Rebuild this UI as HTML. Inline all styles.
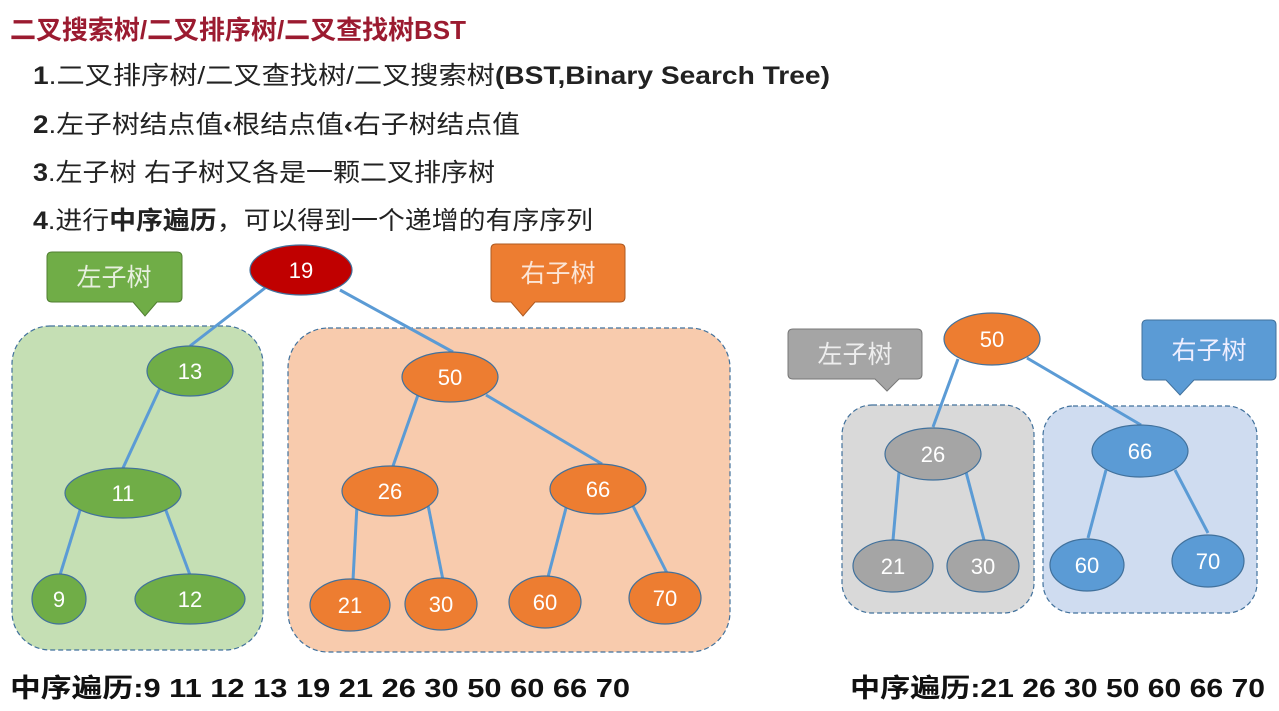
<!DOCTYPE html>
<html><head><meta charset="utf-8"><style>
html,body{margin:0;padding:0;background:#fff;width:1279px;height:711px;overflow:hidden}
svg{display:block}
text{font-family:"Liberation Sans","Noto Sans CJK SC",sans-serif}
</style></head><body>
<svg width="1279" height="711" viewBox="0 0 1279 711" xmlns="http://www.w3.org/2000/svg">
<text x="10" y="39" font-size="26" font-weight="bold" fill="#9b1b30" textLength="456" lengthAdjust="spacingAndGlyphs">二叉搜索树/二叉排序树/二叉查找树BST</text>
<g font-size="25" fill="#222">
<text x="33" y="84" textLength="797" lengthAdjust="spacingAndGlyphs"><tspan font-weight="bold">1</tspan>.二叉排序树/二叉查找树/二叉搜索树<tspan font-weight="bold">(BST,Binary Search Tree)</tspan></text>
<text x="33" y="133" textLength="487" lengthAdjust="spacingAndGlyphs"><tspan font-weight="bold">2</tspan>.左子树结点值<tspan font-weight="bold">‹</tspan>根结点值<tspan font-weight="bold">‹</tspan>右子树结点值</text>
<text x="33" y="181" textLength="462" lengthAdjust="spacingAndGlyphs"><tspan font-weight="bold">3</tspan>.左子树 右子树又各是一颗二叉排序树</text>
<text x="33" y="229" textLength="560" lengthAdjust="spacingAndGlyphs"><tspan font-weight="bold">4</tspan>.进行<tspan font-weight="bold">中序遍历</tspan>，可以得到一个递增的有序序列</text>
</g>
<!-- containers -->
<rect x="12" y="326" width="251" height="324" rx="38" fill="#c5dfb4" stroke="#41719c" stroke-dasharray="5,3" stroke-width="1.2"/>
<rect x="288" y="328" width="442" height="324" rx="40" fill="#f8cbad" stroke="#41719c" stroke-dasharray="5,3" stroke-width="1.2"/>
<rect x="842" y="405" width="192" height="208" rx="30" fill="#d9d9d9" stroke="#41719c" stroke-dasharray="5,3" stroke-width="1.2"/>
<rect x="1043" y="406" width="214" height="207" rx="30" fill="#cfdcf0" stroke="#41719c" stroke-dasharray="5,3" stroke-width="1.2"/>
<!-- callouts -->
<path d="M52 252 H177 Q182 252 182 257 V297 Q182 302 177 302 H157 L145 316 L133 302 H52 Q47 302 47 297 V257 Q47 252 52 252Z" fill="#70ad47" stroke="#507e32"/>
<text x="114" y="286" font-size="25" fill="#e8f0e0" text-anchor="middle">左子树</text>
<path d="M496 244 H620 Q625 244 625 249 V297 Q625 302 620 302 H535 L523 316 L511 302 H496 Q491 302 491 297 V249 Q491 244 496 244Z" fill="#ed7d31" stroke="#ae5a21"/>
<text x="558" y="282" font-size="25" fill="#fbe5d6" text-anchor="middle">右子树</text>
<path d="M793 329 H917 Q922 329 922 334 V374 Q922 379 917 379 H899 L887 391 L875 379 H793 Q788 379 788 374 V334 Q788 329 793 329Z" fill="#a5a5a5" stroke="#787878"/>
<text x="855" y="363" font-size="25" fill="#eee" text-anchor="middle">左子树</text>
<path d="M1147 320 H1271 Q1276 320 1276 325 V375 Q1276 380 1271 380 H1194 L1180 395 L1166 380 H1147 Q1142 380 1142 375 V325 Q1142 320 1147 320Z" fill="#5b9bd5" stroke="#41719c"/>
<text x="1209" y="359" font-size="25" fill="#eef" text-anchor="middle">右子树</text>
<!-- edges -->
<g stroke="#5b9bd5" stroke-width="3">
<line x1="265" y1="288" x2="190" y2="346"/><line x1="340" y1="290" x2="453" y2="352"/>
<line x1="160" y1="388" x2="123" y2="468"/><line x1="81" y1="507" x2="60" y2="575"/><line x1="165" y1="508" x2="190" y2="575"/>
<line x1="418" y1="395" x2="393" y2="466"/><line x1="486" y1="395" x2="602" y2="464"/>
<line x1="357" y1="505" x2="353" y2="580"/><line x1="428" y1="505" x2="443" y2="580"/>
<line x1="566" y1="508" x2="548" y2="577"/><line x1="632" y1="504" x2="667" y2="573"/>
<line x1="958" y1="359" x2="933" y2="427"/><line x1="1027" y1="358" x2="1141" y2="425"/>
<line x1="899" y1="472" x2="893" y2="540"/><line x1="966" y1="472" x2="984" y2="540"/>
<line x1="1106" y1="470" x2="1088" y2="538"/><line x1="1175" y1="470" x2="1208" y2="533"/>
</g>
<!-- nodes -->
<g stroke="#41719c" stroke-width="1.2">
<ellipse cx="301" cy="270" rx="51" ry="25" fill="#c00000"/>
<g fill="#70ad47">
<ellipse cx="190" cy="371" rx="43" ry="25"/><ellipse cx="123" cy="493" rx="58" ry="25"/>
<ellipse cx="59" cy="599" rx="27" ry="25"/><ellipse cx="190" cy="599" rx="55" ry="25"/></g>
<g fill="#ed7d31">
<ellipse cx="450" cy="377" rx="48" ry="25"/><ellipse cx="390" cy="491" rx="48" ry="25"/><ellipse cx="598" cy="489" rx="48" ry="25"/>
<ellipse cx="350" cy="605" rx="40" ry="26"/><ellipse cx="441" cy="604" rx="36" ry="26"/><ellipse cx="545" cy="602" rx="36" ry="26"/><ellipse cx="665" cy="598" rx="36" ry="26"/>
<ellipse cx="992" cy="339" rx="48" ry="26"/></g>
<g fill="#a5a5a5">
<ellipse cx="933" cy="454" rx="48" ry="26"/><ellipse cx="893" cy="566" rx="40" ry="26"/><ellipse cx="983" cy="566" rx="36" ry="26"/></g>
<g fill="#5b9bd5">
<ellipse cx="1140" cy="451" rx="48" ry="26"/><ellipse cx="1087" cy="565" rx="37" ry="26"/><ellipse cx="1208" cy="561" rx="36" ry="26"/></g>
</g>
<g font-size="22" fill="#fff" text-anchor="middle">
<text x="301" y="278">19</text><text x="190" y="379">13</text><text x="123" y="501">11</text><text x="59" y="607">9</text><text x="190" y="607">12</text>
<text x="450" y="385">50</text><text x="390" y="499">26</text><text x="598" y="497">66</text>
<text x="350" y="613">21</text><text x="441" y="612">30</text><text x="545" y="610">60</text><text x="665" y="606">70</text>
<text x="992" y="347">50</text><text x="933" y="462">26</text><text x="893" y="574">21</text><text x="983" y="574">30</text>
<text x="1140" y="459">66</text><text x="1087" y="573">60</text><text x="1208" y="569">70</text>
</g>
<text x="10" y="697" font-size="26" font-weight="bold" fill="#111" textLength="620" lengthAdjust="spacingAndGlyphs">中序遍历:9  11  12  13  19  21  26  30  50  60  66  70</text>
<text x="850" y="697" font-size="26" font-weight="bold" fill="#111" textLength="415" lengthAdjust="spacingAndGlyphs">中序遍历:21  26  30  50  60  66  70</text>
</svg>
</body></html>
